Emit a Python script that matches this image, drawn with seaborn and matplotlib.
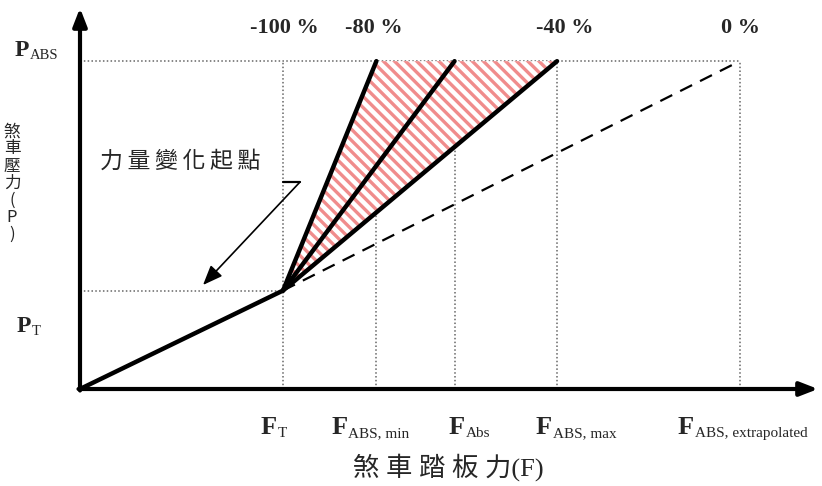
import numpy as np
import pandas as pd
import matplotlib
matplotlib.use("Agg")
import matplotlib.pyplot as plt
import seaborn as sns

force_labels = ["T", "ABS, min", "Abs", "ABS, max", "ABS, extrapolated"]
force_values = [2.00, 2.92, 3.69, 4.70, 6.50]      # F_T, F_ABS,min, F_Abs, F_ABS,max, F_ABS,extrap
p_knee = 0.97                                        # P_T
p_abs = 3.23                                         # P_ABS
pct_labels = ["-100 %", "-80 %", "-40 %", "0 %"]
pct_force = [2.00, 2.92, 4.70, 6.50]
x_title = "煞車踏板力(F)"
y_title = "煞車壓力(P)"
note = "力量變化起點"

sns.set_theme(style="white")
plt.rcParams["font.family"] = ["Liberation Serif", "Noto Sans CJK TC", "DejaVu Sans"]
plt.rcParams["hatch.linewidth"] = 2.4

S = 101.5  # px per data unit


def px(xp, yp):
    # pixel position in the 822x486 picture -> data coordinates
    return (xp - 80) / S, (389 - yp) / S


fig = plt.figure(figsize=(8.22, 4.86), dpi=100)
ax = fig.add_axes([80 / 822, 97 / 486, 741 / 822, 385.7 / 486])
ax.set_xlim(0, 741 / S)
ax.set_ylim(0, 385.7 / S)
ax.axis("off")

# hatched ABS band between -80 % and -40 % lines
f_t = force_values[0]
ax.fill([f_t, force_values[1], force_values[3]], [p_knee, p_abs, p_abs],
        facecolor="white", edgecolor="#f08c8c", hatch="\\\\\\", linewidth=0, zorder=1)

# dotted guides
dot = dict(color="#666666", lw=1.1, ls=(0, (1, 1.5)), zorder=0.5)
ax.plot([0, force_values[-1]], [p_abs, p_abs], **dot)
ax.plot([0, f_t], [p_knee, p_knee], **dot)
for f in force_values:
    ax.plot([f, f], [0, p_abs], **dot)

# pressure curves
rows = [("base", 0.0, 0.0), ("base", f_t, p_knee)]
for i, f in enumerate(force_values[1:4]):
    rows += [(f"c{i}", f_t, p_knee), (f"c{i}", f, p_abs)]
df = pd.DataFrame(rows, columns=["curve", "F", "P"])
sns.lineplot(data=df, x="F", y="P", units="curve", estimator=None, sort=False,
             color="black", lw=3.2, ax=ax, zorder=3, legend=False)
sns.lineplot(x=[f_t, force_values[-1]], y=[p_knee, p_abs], sort=False,
             color="black", lw=1.6, ls=(0, (6, 4)), ax=ax, zorder=3)

# axes arrows
arr = dict(arrowstyle="-|>,head_length=0.9,head_width=0.35", lw=3, color="black",
           shrinkA=0, shrinkB=0)
ax.annotate("", xy=(738 / S, 0), xytext=(-1.5 / S, 0), arrowprops=arr, annotation_clip=False)
ax.annotate("", xy=(0, 381 / S), xytext=(0, -1.5 / S), arrowprops=arr, annotation_clip=False)

# percentage labels
pct_dx = [1, -3, 8, 1]
for lab, f, dx in zip(pct_labels, pct_force, pct_dx):
    ax.text(f + dx / S, px(0, 28)[1], lab, ha="center", va="center",
            fontsize=16, fontweight="bold")

# force labels F_xxx (F bold + smaller subscript)
junction_dx = [-6, -29, 10, -5, -46]
for lab, f, dx in zip(force_labels, force_values, junction_dx):
    xj = f + dx / S
    ax.text(xj, px(0, 434)[1], "F", ha="right", va="baseline",
            fontsize=19, fontweight="bold")
    ax.text(xj + 1 / S, px(0, 437)[1], lab, ha="left", va="baseline", fontsize=11)

# pressure labels
ax.text(*px(15, 56), "P", ha="left", va="baseline", fontsize=17, fontweight="bold")
ax.text(*px(30, 59), "ABS", ha="left", va="baseline", fontsize=10.5)
ax.text(*px(17, 332), "P", ha="left", va="baseline", fontsize=17, fontweight="bold")
ax.text(*px(32, 335), "T", ha="left", va="baseline", fontsize=10.5)

# annotation of the knee point
ax.plot([f_t, px(300, 0)[0]], [px(0, 182)[1]] * 2, color="black", lw=1.6)
ax.annotate("", xy=px(203, 285), xytext=px(300, 182),
            arrowprops=dict(arrowstyle="-|>,head_length=1.0,head_width=0.4",
                            lw=1.2, color="black", shrinkA=0, shrinkB=0))
ax.text(*px(180, 161), "\u2009".join(note), ha="center", va="center", fontsize=16.5,
        family=["Noto Sans CJK TC", "DejaVu Sans"], fontweight="light")

# axis titles
ax.text(*px(448, 467), " ".join(x_title[:4]) + " " + x_title[4:], ha="center", va="center",
        fontsize=19, family=["Liberation Serif", "Noto Sans CJK TC"], fontweight="light")
ax.text(*px(12, 183), "\n".join(y_title), ha="center", va="center", fontsize=12,
        family=["Noto Sans CJK TC", "DejaVu Sans"], fontweight="light", linespacing=1.0)

fig.savefig("out.png", dpi=100)
